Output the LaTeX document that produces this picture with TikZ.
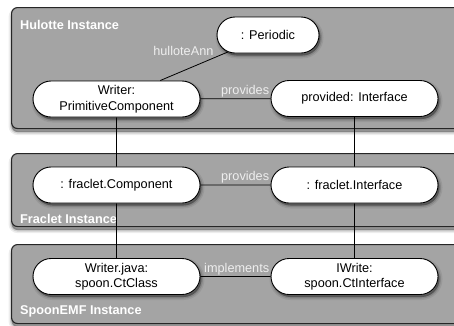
\documentclass[tikz,border=0pt]{standalone}
\usepackage{fontspec}
\setmainfont{Liberation Sans}
\usetikzlibrary{shapes.misc}
\definecolor{panelgray}{HTML}{A4A4A4}
\definecolor{panelrim}{HTML}{262626}
\definecolor{labelgray}{HTML}{EEEEEE}
\pgfdeclarelayer{panels}
\pgfdeclarelayer{wires}
\pgfsetlayers{panels,wires,main}
\tikzset{
  basefont/.style={font=\fontsize{12.7}{15.5}\selectfont},
  % layered translucent copies give a soft drop shadow
  softshadow/.style 2 args={
    preaction={fill=black, fill opacity=0.10, draw=black, draw opacity=0.07,
      line width=6pt, transform canvas={xshift=#1, yshift=#2}},
    preaction={fill=black, fill opacity=0.10, draw=black, draw opacity=0.12,
      line width=3pt, transform canvas={xshift=#1, yshift=#2}},
    preaction={fill=black, fill opacity=0.20,
      transform canvas={xshift=#1, yshift=#2}}},
  panel/.style={draw=panelrim, line width=1.1pt, fill=panelgray,
    rounded corners=6pt, anchor=north west, inner sep=0pt,
    softshadow={0pt}{-3.5pt}},
  paneltitle/.style={font=\fontsize{12.7}{15.5}\selectfont\bfseries,
    text=white, anchor=west, inner sep=0pt},
  obj/.style={rounded rectangle, draw=black, line width=0.9pt, fill=white,
    basefont, align=center, minimum width=171pt, minimum height=36pt,
    inner sep=2pt, softshadow={1.5pt}{-2.5pt}},
  wire/.style={draw=black, line width=0.8pt},
  lbl/.style={basefont, text=labelgray, inner sep=1pt},
}
\begin{document}
\begin{tikzpicture}[x=1pt,y=-1pt]
  \useasboundingbox (0,0) rectangle (454,325);

  % containers
  \begin{pgfonlayer}{panels}
    \node[panel, minimum width=470pt, minimum height=121pt] (hulotte) at (11,7) {};
    \node[panel, minimum width=470pt, minimum height=73pt] (fraclet) at (11,153) {};
    \node[panel, minimum width=470pt, minimum height=79pt] (spoon) at (11,244) {};
    \node[paneltitle] (thulotte) at (20,25) {Hulotte Instance};
    \node[paneltitle] (tfraclet) at (20,219) {Fraclet Instance};
    \node[paneltitle] (tspoon) at (20,311) {SpoonEMF Instance};
  \end{pgfonlayer}

  % objects
  \node[obj, minimum width=106pt] (per) at (268,35) {: Periodic};
  \node[obj] (wr) at (116.5,99) {Writer:\\PrimitiveComponent};
  \node[obj] (pi) at (354.5,98.5) {provided: Interface};
  \node[obj] (fc) at (116.5,185) {: fraclet.Component};
  \node[obj] (fi) at (354.5,185) {: fraclet.Interface};
  \node[obj] (wj) at (116.5,276.5) {Writer.java:\\spoon.CtClass};
  \node[obj] (iw) at (354.5,276.5) {IWrite:\\spoon.CtInterface};

  % links
  \begin{pgfonlayer}{wires}
    \draw[wire] (per) -- node[lbl, pos=0, anchor=east, xshift=-13pt, yshift=1pt] {hulloteAnn} (wr);
    \draw[wire] (wr) -- node[lbl, pos=1, anchor=south east] {provides} (pi);
    \draw[wire] (fc) -- node[lbl, pos=1, anchor=south east] {provides} (fi);
    \draw[wire] (wj) -- node[lbl, pos=1, anchor=south east] {implements} (iw);
    \draw[wire] (wr) -- (fc);
    \draw[wire] (fc) -- (wj);
    \draw[wire] (pi) -- (fi);
    \draw[wire] (fi) -- (iw);
  \end{pgfonlayer}
\end{tikzpicture}
\end{document}
